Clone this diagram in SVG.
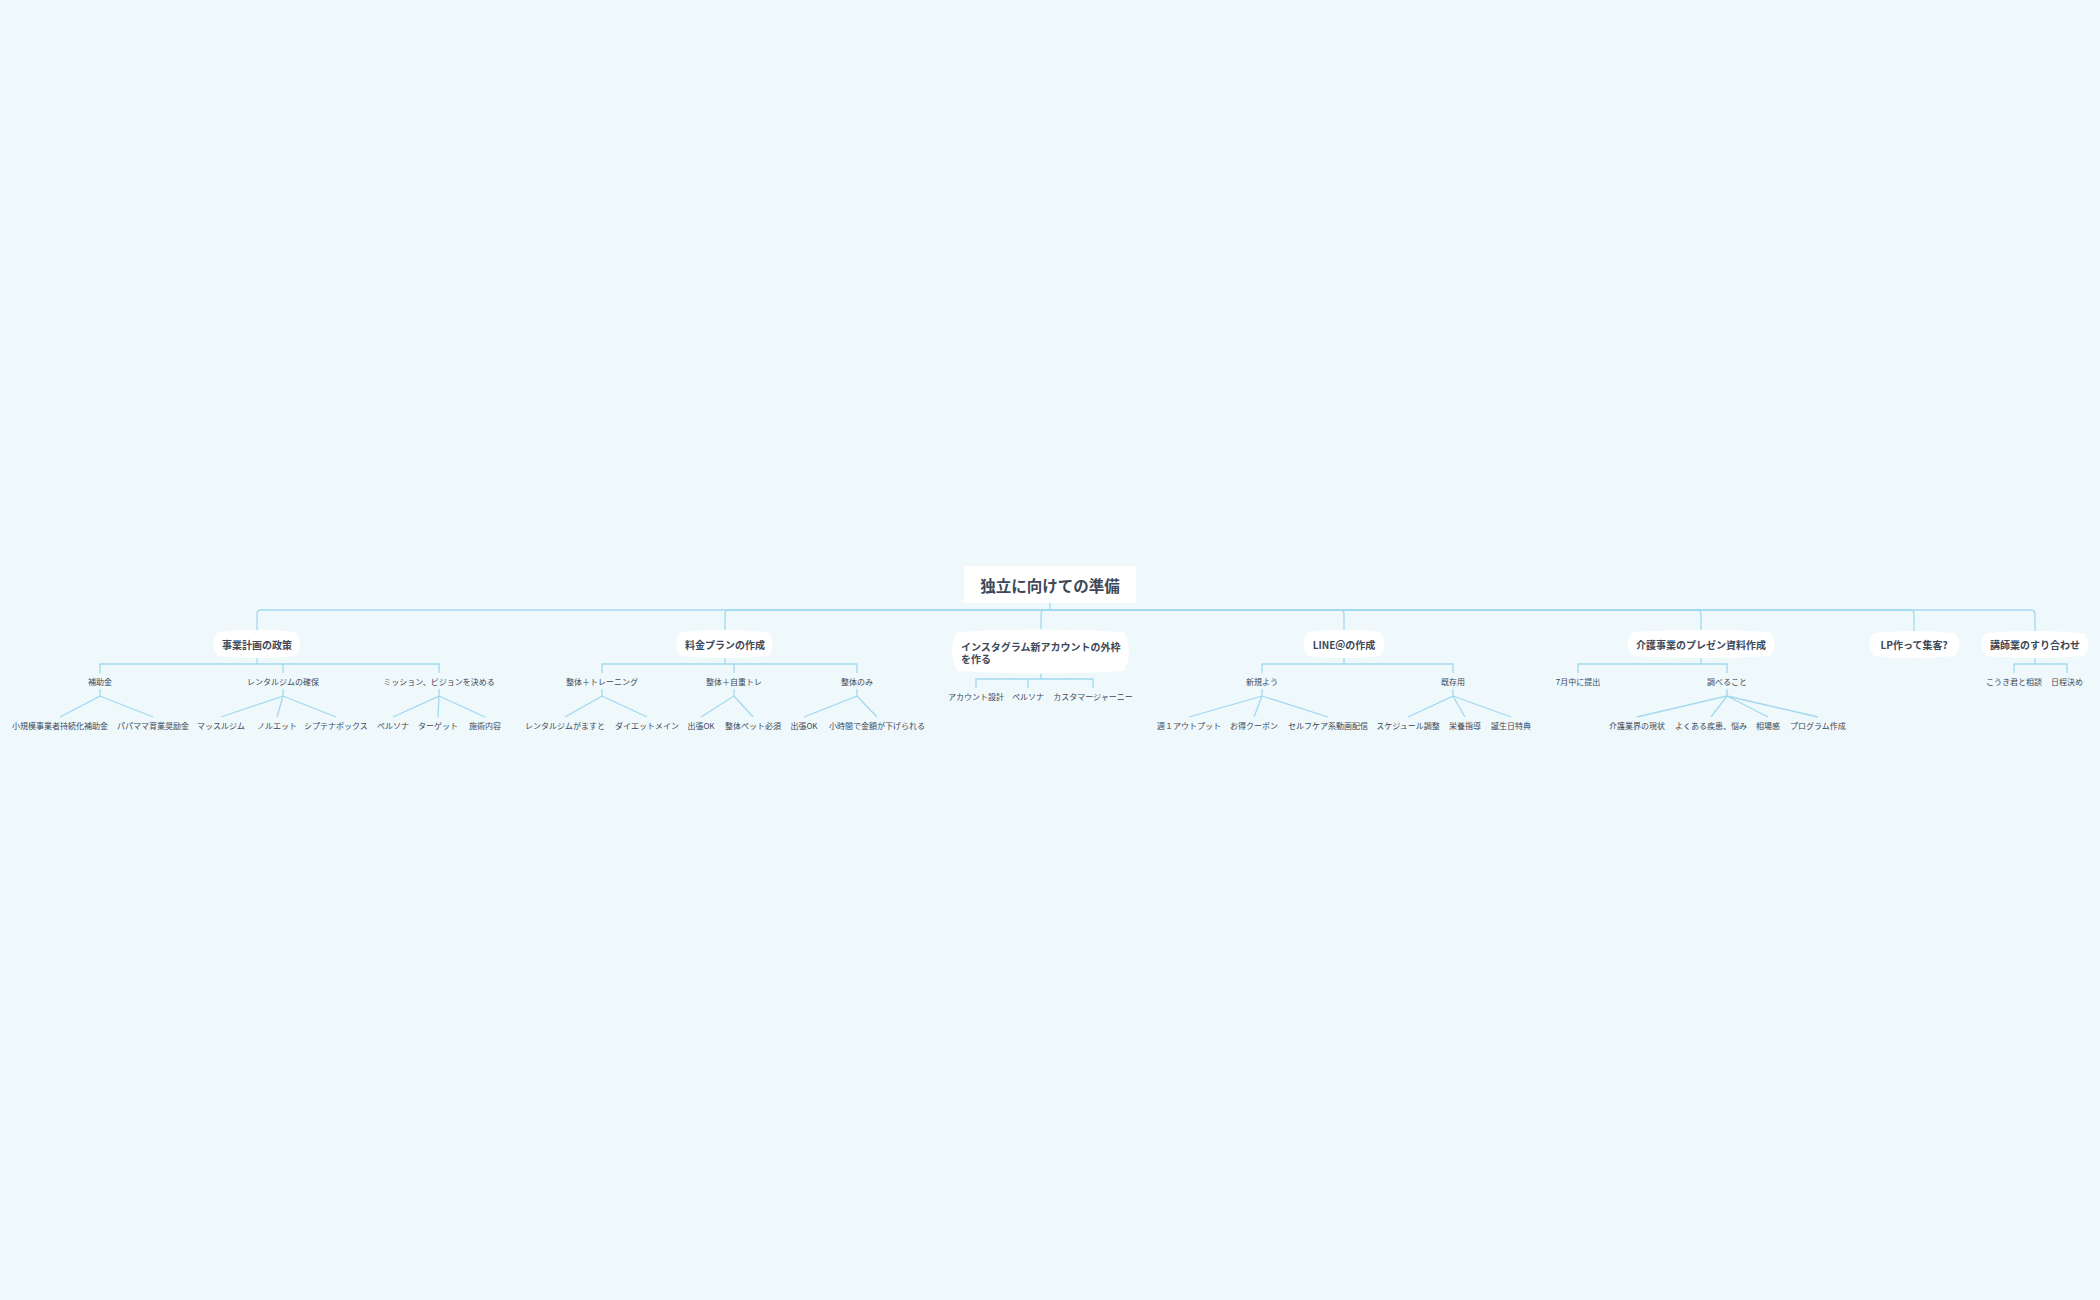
<svg xmlns="http://www.w3.org/2000/svg" width="2100" height="1300" viewBox="0 0 2100 1300">
<style>
text{font-family:"Noto Sans CJK JP","Noto Sans",sans-serif;fill:#3d4859;dominant-baseline:central;text-anchor:middle}
.root{font-size:15.5px;font-weight:bold}
.main{font-size:10px;font-weight:bold}
.sub{font-size:8px}
.leaf{font-size:8px}
.ln{fill:none;stroke:#a2d9ef;stroke-width:1.3}
.box{fill:#ffffff}
</style>
<rect width="2100" height="1300" fill="#eff8fb"/>
<g id="connectors">
<path class="ln" d="M1050,603 V610"/>
<path class="ln" d="M1050,610 H261 Q257,610 257,614 V631"/>
<path class="ln" d="M1050,610 H729 Q725,610 725,614 V631"/>
<path class="ln" d="M1050,610 H1045 Q1041,610 1041,614 V631"/>
<path class="ln" d="M1050,610 H1340 Q1344,610 1344,614 V631"/>
<path class="ln" d="M1050,610 H1697 Q1701,610 1701,614 V631"/>
<path class="ln" d="M1050,610 H1910 Q1914,610 1914,614 V633"/>
<path class="ln" d="M1050,610 H2031 Q2035,610 2035,614 V633"/>
<!-- 事業計画 -->
<path class="ln" d="M257,657 V664 M100,673 V664 H439 V673 M283,664 V673"/>
<path class="ln" d="M100,689 V696 L60,717 M100,696 L153,717"/>
<path class="ln" d="M283,689 V696 L221,717 M283,696 L277,717 M283,696 L336,717"/>
<path class="ln" d="M439,689 V696 L393,717 M439,696 L438,717 M439,696 L485,717"/>
<!-- 料金 -->
<path class="ln" d="M725,657 V664 M602,673 V664 H857 V673 M734,664 V673"/>
<path class="ln" d="M602,689 V696 L565,717 M602,696 L647,717"/>
<path class="ln" d="M734,689 V696 L701,717 M734,696 L753,717"/>
<path class="ln" d="M857,689 V696 L804,717 M857,696 L877,717"/>
<!-- Instagram -->
<path class="ln" d="M1041,672 V679 M976,688 V679 H1093 V688 M1028,679 V688"/>
<!-- LINE -->
<path class="ln" d="M1344,657 V664 M1262,673 V664 H1453 V673"/>
<path class="ln" d="M1262,689 V696 L1189,717 M1262,696 L1254,717 M1262,696 L1328,717"/>
<path class="ln" d="M1453,689 V696 L1408,717 M1453,696 L1465,717 M1453,696 L1511,717"/>
<!-- 介護 -->
<path class="ln" d="M1701,657 V664 M1578,673 V664 H1727 V673"/>
<path class="ln" d="M1727,689 V696 L1637,717 M1727,696 L1711,717 M1727,696 L1768,717 M1727,696 L1818,717"/>
<!-- 講師業 -->
<path class="ln" d="M2035,656 V664 M2014,673 V664 H2067 V673"/>
</g>
<g id="root">
<rect class="box" x="964" y="566" width="172" height="37"/>
<text class="root" x="1050" y="585">独立に向けての準備</text>
</g>
<g id="n1">
<path class="box" d="M218,632 Q257,628 296,632 Q304,644 296,656 Q257,660 218,656 Q209,644 218,632 Z"/>
<text class="main" x="257" y="644">事業計画の政策</text>
</g>
<g id="n1-1"><text class="sub" x="100" y="681">補助金</text></g>
<g id="n1-1-1"><text class="leaf" x="60" y="725">小規模事業者持続化補助金</text></g>
<g id="n1-1-2"><text class="leaf" x="153" y="725">パパママ育業奨励金</text></g>
<g id="n1-2"><text class="sub" x="283" y="681">レンタルジムの確保</text></g>
<g id="n1-2-1"><text class="leaf" x="221" y="725">マッスルジム</text></g>
<g id="n1-2-2"><text class="leaf" x="277" y="725">ノルエット</text></g>
<g id="n1-2-3"><text class="leaf" x="336" y="725">シプテナボックス</text></g>
<g id="n1-3"><text class="sub" x="439" y="681">ミッション、ビジョンを決める</text></g>
<g id="n1-3-1"><text class="leaf" x="393" y="725">ペルソナ</text></g>
<g id="n1-3-2"><text class="leaf" x="438" y="725">ターゲット</text></g>
<g id="n1-3-3"><text class="leaf" x="485" y="725">施術内容</text></g>
<g id="n2">
<path class="box" d="M681,632 Q725,628 768,632 Q777,644 768,656 Q725,660 681,656 Q672,644 681,632 Z"/>
<text class="main" x="725" y="644">料金プランの作成</text>
</g>
<g id="n2-1"><text class="sub" x="602" y="681">整体＋トレーニング</text></g>
<g id="n2-1-1"><text class="leaf" x="565" y="725">レンタルジムがますと</text></g>
<g id="n2-1-2"><text class="leaf" x="647" y="725">ダイエットメイン</text></g>
<g id="n2-2"><text class="sub" x="734" y="681">整体＋自重トレ</text></g>
<g id="n2-2-1"><text class="leaf" x="701" y="725">出張OK</text></g>
<g id="n2-2-2"><text class="leaf" x="753" y="725">整体ペット必須</text></g>
<g id="n2-3"><text class="sub" x="857" y="681">整体のみ</text></g>
<g id="n2-3-1"><text class="leaf" x="804" y="725">出張OK</text></g>
<g id="n2-3-2"><text class="leaf" x="877" y="725">小時間で金額が下げられる</text></g>
<g id="n3">
<path class="box" d="M957,632 Q1041,627 1124,632 Q1134,651 1124,671 Q1041,676 957,671 Q947,651 957,632 Z"/>
<text class="main" x="961" y="646" style="text-anchor:start">インスタグラム新アカウントの外枠</text>
<text class="main" x="961" y="658" style="text-anchor:start">を作る</text>
</g>
<g id="n3-1"><text class="sub" x="976" y="696">アカウント設計</text></g>
<g id="n3-2"><text class="sub" x="1028" y="696">ペルソナ</text></g>
<g id="n3-3"><text class="sub" x="1093" y="696">カスタマージャーニー</text></g>
<g id="n4">
<path class="box" d="M1308,632 Q1344,628 1380,632 Q1389,644 1380,656 Q1344,660 1308,656 Q1299,644 1308,632 Z"/>
<text class="main" x="1344" y="644">LINE＠の作成</text>
</g>
<g id="n4-1"><text class="sub" x="1262" y="681">新規よう</text></g>
<g id="n4-1-1"><text class="leaf" x="1189" y="725">週１アウトプット</text></g>
<g id="n4-1-2"><text class="leaf" x="1254" y="725">お得クーポン</text></g>
<g id="n4-1-3"><text class="leaf" x="1328" y="725">セルフケア系動画配信</text></g>
<g id="n4-2"><text class="sub" x="1453" y="681">既存用</text></g>
<g id="n4-2-1"><text class="leaf" x="1408" y="725">スケジュール調整</text></g>
<g id="n4-2-2"><text class="leaf" x="1465" y="725">栄養指導</text></g>
<g id="n4-2-3"><text class="leaf" x="1511" y="725">誕生日特典</text></g>
<g id="n5">
<path class="box" d="M1632,632 Q1701,628 1770,632 Q1779,644 1770,656 Q1701,660 1632,656 Q1623,644 1632,632 Z"/>
<text class="main" x="1701" y="644">介護事業のプレゼン資料作成</text>
</g>
<g id="n5-1"><text class="sub" x="1578" y="681">7月中に提出</text></g>
<g id="n5-2"><text class="sub" x="1727" y="681">調べること</text></g>
<g id="n5-2-1"><text class="leaf" x="1637" y="725">介護業界の現状</text></g>
<g id="n5-2-2"><text class="leaf" x="1711" y="725">よくある疾患、悩み</text></g>
<g id="n5-2-3"><text class="leaf" x="1768" y="725">相場感</text></g>
<g id="n5-2-4"><text class="leaf" x="1818" y="725">プログラム作成</text></g>
<g id="n6">
<path class="box" d="M1874,633 Q1914,629 1955,633 Q1964,644 1955,656 Q1914,660 1874,656 Q1865,644 1874,633 Z"/>
<text class="main" x="1914" y="644">LP作って集客?</text>
</g>
<g id="n7">
<path class="box" d="M1986,633 Q2035,629 2084,633 Q2093,644 2084,656 Q2035,660 1986,656 Q1977,644 1986,633 Z"/>
<text class="main" x="2035" y="644">講師業のすり合わせ</text>
</g>
<g id="n7-1"><text class="sub" x="2014" y="681">こうき君と相談</text></g>
<g id="n7-2"><text class="sub" x="2067" y="681">日程決め</text></g>
</svg>
